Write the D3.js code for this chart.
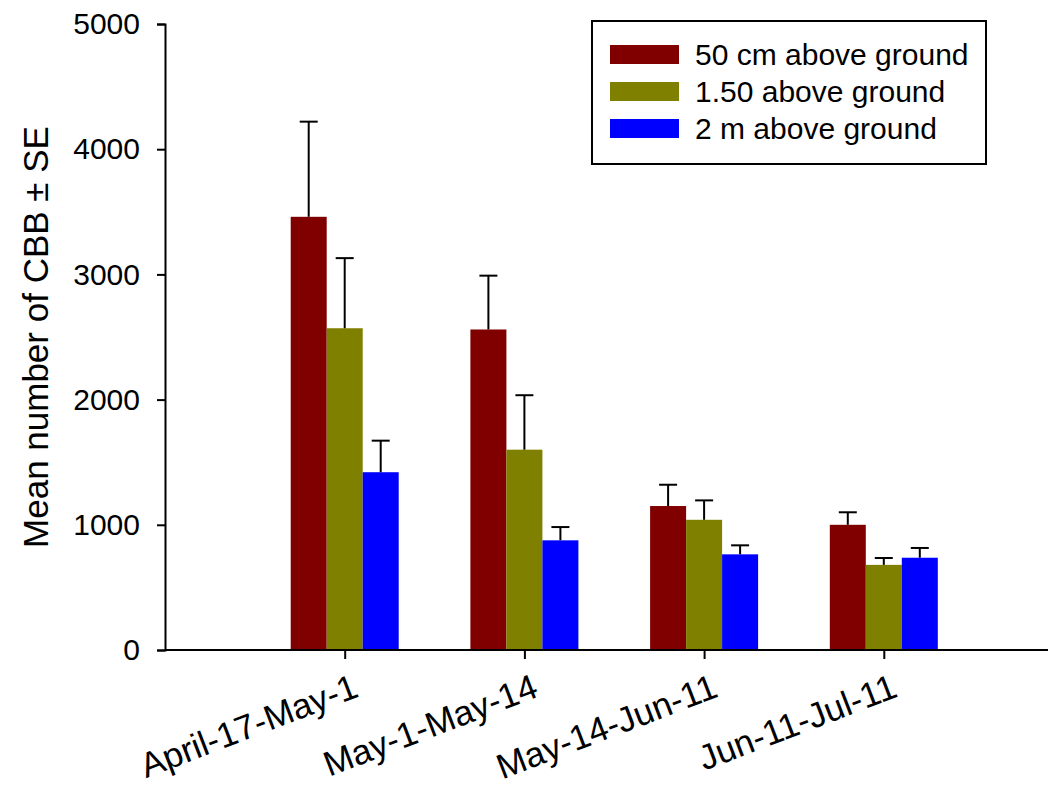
<!DOCTYPE html>
<html>
<head>
<meta charset="utf-8">
<script src="https://cdn.jsdelivr.net/npm/d3@7"></script>
<style>
  html, body { margin: 0; padding: 0; background: #fff; }
  svg { display: block; font-family: "Liberation Sans", Arial, sans-serif; }
</style>
</head>
<body>
<svg id="chart" width="1048" height="788"></svg>
<script>
// ---- data ----
const categories = ["April-17-May-1", "May-1-May-14", "May-14-Jun-11", "Jun-11-Jul-11"];
const seriesNames = ["50 cm above ground", "1.50 above ground", "2 m above ground"];
const mean50cm  = [3460, 2560, 1150, 1000];
const se50cm    = [760, 430, 170, 100];
const mean150   = [2570, 1600, 1040, 680];
const se150     = [560, 435, 155, 55];
const mean2m    = [1420, 876, 764, 737];
const se2m      = [252, 106, 72, 78];
const yTicks    = [0, 1000, 2000, 3000, 4000, 5000];
const colors    = ["#800000", "#808000", "#0000ff"];
const yTitle    = "Mean number of CBB \u00b1 SE";

const series = [
  { name: seriesNames[0], mean: mean50cm, se: se50cm, color: colors[0] },
  { name: seriesNames[1], mean: mean150,  se: se150,  color: colors[1] },
  { name: seriesNames[2], mean: mean2m,   se: se2m,   color: colors[2] }
];

const svg = d3.select("#chart");
const x0 = 165, yBase = 650, yTop = 24, step = 179.7;
const x = d3.scaleLinear().domain([0, 5]).range([x0, x0 + 5 * step]);
const y = d3.scaleLinear().domain([0, 5000]).range([yBase, yTop]);
const barW = 36;

// bars
series.forEach((s, si) => {
  const g = svg.append("g");
  const data = categories.map((c, i) => ({ i, v: s.mean[i], e: s.se[i] }));
  const off = (si - 1.5) * barW;
  g.selectAll("rect").data(data).enter().append("rect")
    .attr("x", d => x(d.i + 1) + off)
    .attr("y", d => y(d.v))
    .attr("width", barW)
    .attr("height", d => y(0) - y(d.v))
    .attr("fill", s.color);
  g.selectAll("line.err").data(data).enter().append("line")
    .attr("x1", d => x(d.i + 1) + off + barW / 2)
    .attr("x2", d => x(d.i + 1) + off + barW / 2)
    .attr("y1", d => y(d.v))
    .attr("y2", d => y(d.v + d.e))
    .attr("stroke", "#000").attr("stroke-width", 2);
  g.selectAll("line.cap").data(data).enter().append("line")
    .attr("x1", d => x(d.i + 1) + off + barW / 2 - 9)
    .attr("x2", d => x(d.i + 1) + off + barW / 2 + 9)
    .attr("y1", d => y(d.v + d.e))
    .attr("y2", d => y(d.v + d.e))
    .attr("stroke", "#000").attr("stroke-width", 2);
});

// y axis
const yAxis = d3.axisLeft(y).tickValues(yTicks).tickSize(8).tickSizeOuter(8).tickPadding(17)
  .tickFormat(d3.format("d"));
const gy = svg.append("g").attr("transform", `translate(${x0},0)`).call(yAxis);
gy.selectAll("path, line").attr("stroke", "#000").attr("stroke-width", 2);
gy.selectAll("text").attr("font-size", 30).attr("fill", "#000")
  .attr("font-family", '"Liberation Sans", Arial, sans-serif');

// x axis
const xAxis = d3.axisBottom(x).tickValues([1, 2, 3, 4]).tickSize(9).tickSizeOuter(0)
  .tickFormat(d => categories[d - 1]);
const gx = svg.append("g").attr("transform", `translate(0,${yBase})`).call(xAxis);
gx.select(".domain").attr("d", `M${x0},0H1060`);
gx.selectAll("path, line").attr("stroke", "#000").attr("stroke-width", 2);
gx.selectAll("text")
  .attr("font-size", 35).attr("fill", "#000")
  .attr("font-family", '"Liberation Sans", Arial, sans-serif')
  .attr("text-anchor", "end")
  .attr("y", 0).attr("dy", 0)
  .attr("transform", "translate(15,46) rotate(-21)");

// y title
svg.append("text")
  .attr("transform", `translate(48,${(yBase + yTop) / 2}) rotate(-90)`)
  .attr("text-anchor", "middle")
  .attr("font-size", 35)
  .attr("fill", "#000")
  .text(yTitle);

// legend
const lg = svg.append("g");
lg.append("rect").attr("x", 592).attr("y", 21).attr("width", 394).attr("height", 143)
  .attr("fill", "#fff").attr("stroke", "#000").attr("stroke-width", 2);
series.forEach((s, i) => {
  lg.append("rect").attr("x", 610).attr("y", 45 + i * 37).attr("width", 69).attr("height", 19)
    .attr("fill", s.color);
  lg.append("text").attr("x", 695).attr("y", 65 + i * 37)
    .attr("font-size", 30).attr("fill", "#000").text(s.name);
});
</script>
</body>
</html>
